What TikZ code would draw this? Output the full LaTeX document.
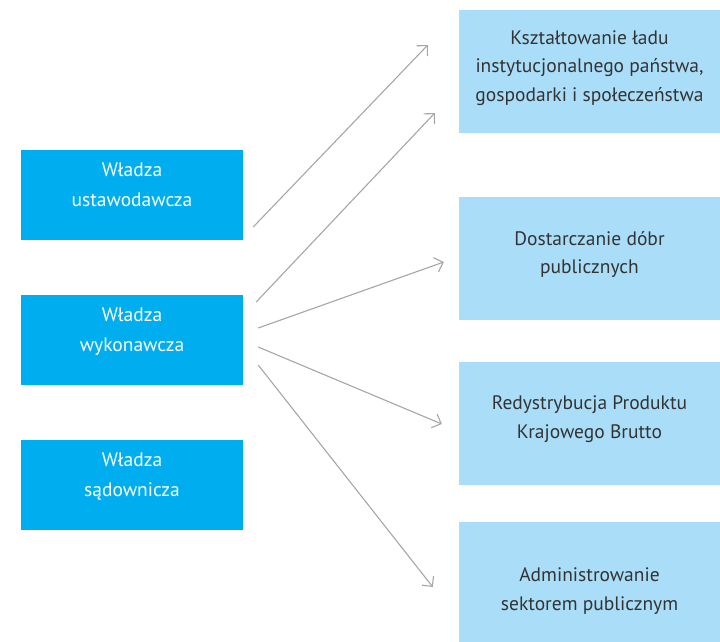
\documentclass[tikz,border=0pt]{standalone}
\usepackage{fontspec}
\setmainfont{PT Sans}
\usepackage{xcolor}
\usepackage{tikz}
\usetikzlibrary{arrows.meta,calc,positioning}

\definecolor{wladza}{HTML}{00AEEF}
\definecolor{zadanie}{HTML}{AADEF8}
\definecolor{strz}{HTML}{A6A6A6}

\begin{document}
\begin{tikzpicture}[x=1pt, y=-1pt,
					every node/.style={align=center, inner sep=0pt},
					powerbox/.style={fill=wladza, text=white, minimum width=222pt, minimum height=90pt,
						font=\fontsize{19.5}{30}\selectfont},
					taskbox/.style={fill=zadanie, text=black!80, minimum width=261pt, minimum height=123pt,
						font=\fontsize{19.5}{28.5}\selectfont},
					link/.style={draw=strz, line width=1.1pt, -{Straight Barb[length=7.5pt, width=15pt, line width=1.1pt]}}
				]
				\useasboundingbox (0,0) rectangle (720,641);
				% trailing \\[..] lifts the text a little above the middle
				\node[powerbox] (leg) at (132,195) {Władza\\ustawodawcza\\[-10pt]};
				\node[powerbox] (exe) at (132,340) {Władza\\wykonawcza\\[-10pt]};
				\node[powerbox] (jud) at (132,485) {Władza\\sądownicza\\[-10pt]};

				\node[taskbox] (lad) at (589.5,71.5) {Kształtowanie ładu\\instytucjonalnego państwa,\\gospodarki i społeczeństwa\\[-17pt]};
				\node[taskbox] (dobra) at (589.5,258.5) {Dostarczanie dóbr\\publicznych\\[-16pt]};
				\node[taskbox] (pkb) at (589.5,423.5) {Redystrybucja Produktu\\Krajowego Brutto\\[-16pt]};
				% last box runs past the bottom edge
				\node[taskbox, minimum height=145pt] (adm) at (589.5,594.5) {Administrowanie\\sektorem publicznym\\[-18pt]};

				\draw[link] ([shift={(10,32)}]leg.east) -- ([shift={(-31,-26.5)}]lad.west);
				\draw[link] ([shift={(13,-38)}]exe.east) -- ([shift={(-24,41.5)}]lad.west);
				\draw[link] ([shift={(15,-12)}]exe.east) -- ([shift={(-15,3.5)}]dobra.west);
				\draw[link] ([shift={(15,7)}]exe.east) -- ([shift={(-17,0.5)}]pkb.west);
				\draw[link] ([shift={(15,25)}]exe.east) -- ([shift={(-26,-7.5)}]adm.west);
			\end{tikzpicture}
\end{document}
